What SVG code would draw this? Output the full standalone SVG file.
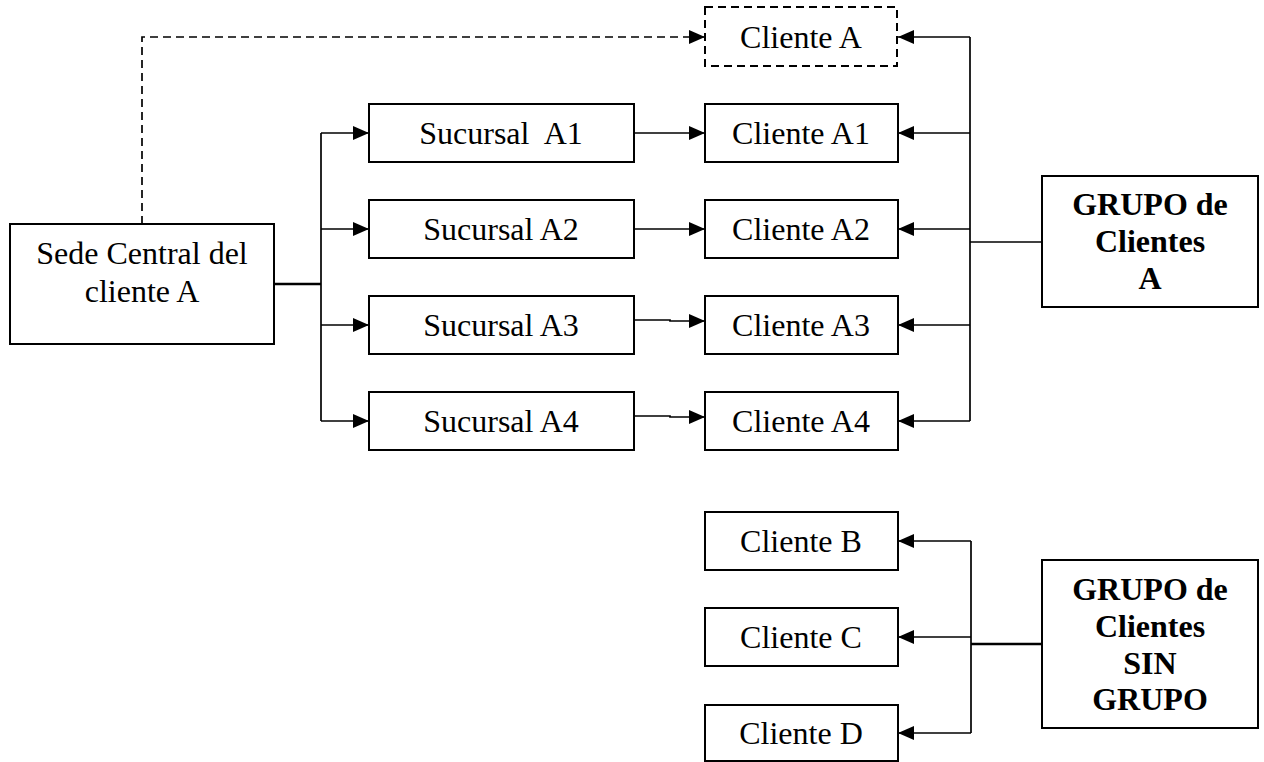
<svg xmlns="http://www.w3.org/2000/svg" width="1264" height="762" viewBox="0 0 1264 762">
<style>
.box{fill:#fff;stroke:#000;stroke-width:2}
.dbox{fill:#fff;stroke:#000;stroke-width:2;stroke-dasharray:8 5}
.t{font-family:"Liberation Serif","Times New Roman",serif;font-size:32px;fill:#000;text-anchor:middle}
.b{font-weight:bold}
.c{fill:none;stroke:#000;stroke-width:1.7}
.k{fill:none;stroke:#000;stroke-width:2.6}
.d{fill:none;stroke:#000;stroke-width:1.7;stroke-dasharray:8 5}
</style>
<defs>
<marker id="arr" viewBox="0 0 16 14" refX="16" refY="7" markerWidth="16" markerHeight="14" markerUnits="userSpaceOnUse" orient="auto">
<path d="M0,0 L16,7 L0,14 z" fill="#000"/>
</marker>
</defs>
<rect width="1264" height="762" fill="#fff"/>
<g id="connectors">
<path class="d" d="M142,224 V37 H705" marker-end="url(#arr)"/>
<path class="k" d="M274,284 H321"/>
<path class="c" d="M321,133 V421"/>
<path class="c" d="M321,133 H369" marker-end="url(#arr)"/>
<path class="c" d="M321,229 H369" marker-end="url(#arr)"/>
<path class="c" d="M321,325 H369" marker-end="url(#arr)"/>
<path class="c" d="M321,421 H369" marker-end="url(#arr)"/>
<path class="c" d="M634,133 H705" marker-end="url(#arr)"/>
<path class="c" d="M634,229 H705" marker-end="url(#arr)"/>
<path class="c" d="M634,320 H670 V321 H705" marker-end="url(#arr)"/>
<path class="c" d="M634,416 H670 V417 H705" marker-end="url(#arr)"/>
<path class="c" d="M1042,242 H970"/>
<path class="c" d="M970,37 V421"/>
<path class="c" d="M970,37 H898" marker-end="url(#arr)"/>
<path class="c" d="M970,133 H898" marker-end="url(#arr)"/>
<path class="c" d="M970,229 H898" marker-end="url(#arr)"/>
<path class="c" d="M970,325 H898" marker-end="url(#arr)"/>
<path class="c" d="M970,421 H898" marker-end="url(#arr)"/>
<path class="k" d="M1042,644 H971"/>
<path class="c" d="M971,541 V733"/>
<path class="c" d="M971,541 H898" marker-end="url(#arr)"/>
<path class="c" d="M971,637 H898" marker-end="url(#arr)"/>
<path class="c" d="M971,733 H898" marker-end="url(#arr)"/>
</g>
<g id="sede">
<rect class="box" x="10" y="224" width="264" height="120"/>
<text class="t" x="142" y="264">Sede Central del</text>
<text class="t" x="142" y="302">cliente A</text>
</g>
<g id="clienteA">
<rect class="dbox" x="705" y="7" width="192" height="59"/>
<text class="t" x="801" y="48">Cliente A</text>
</g>
<g id="sucursalA1">
<rect class="box" x="369" y="104" width="265" height="58"/>
<text class="t" x="501" y="144">Sucursal&#160; A1</text>
</g>
<g id="sucursalA2">
<rect class="box" x="369" y="200" width="265" height="58"/>
<text class="t" x="501" y="240">Sucursal A2</text>
</g>
<g id="sucursalA3">
<rect class="box" x="369" y="296" width="265" height="58"/>
<text class="t" x="501" y="336">Sucursal A3</text>
</g>
<g id="sucursalA4">
<rect class="box" x="369" y="392" width="265" height="58"/>
<text class="t" x="501" y="432">Sucursal A4</text>
</g>
<g id="clienteA1">
<rect class="box" x="705" y="104" width="193" height="58"/>
<text class="t" x="801" y="144">Cliente A1</text>
</g>
<g id="clienteA2">
<rect class="box" x="705" y="200" width="193" height="58"/>
<text class="t" x="801" y="240">Cliente A2</text>
</g>
<g id="clienteA3">
<rect class="box" x="705" y="296" width="193" height="58"/>
<text class="t" x="801" y="336">Cliente A3</text>
</g>
<g id="clienteA4">
<rect class="box" x="705" y="392" width="193" height="58"/>
<text class="t" x="801" y="432">Cliente A4</text>
</g>
<g id="grupoA">
<rect class="box" x="1042" y="176" width="216" height="131"/>
<text class="t b" x="1150" y="215">GRUPO de</text>
<text class="t b" x="1150" y="252">Clientes</text>
<text class="t b" x="1150" y="289">A</text>
</g>
<g id="clienteB">
<rect class="box" x="705" y="512" width="193" height="58"/>
<text class="t" x="801" y="552">Cliente B</text>
</g>
<g id="clienteC">
<rect class="box" x="705" y="608" width="193" height="58"/>
<text class="t" x="801" y="648">Cliente C</text>
</g>
<g id="clienteD">
<rect class="box" x="705" y="705" width="193" height="56"/>
<text class="t" x="801" y="744">Cliente D</text>
</g>
<g id="grupoSin">
<rect class="box" x="1042" y="560" width="216" height="168"/>
<text class="t b" x="1150" y="600">GRUPO de</text>
<text class="t b" x="1150" y="637">Clientes</text>
<text class="t b" x="1150" y="674">SIN</text>
<text class="t b" x="1150" y="710">GRUPO</text>
</g>
</svg>
